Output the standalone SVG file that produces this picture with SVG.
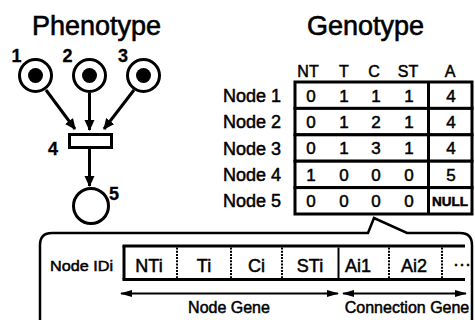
<svg xmlns="http://www.w3.org/2000/svg" width="475" height="320" viewBox="0 0 475 320" font-family="'Liberation Sans', Arial, Helvetica, sans-serif">
  <style>
    text { font-family: 'Liberation Sans', Arial, Helvetica, sans-serif; fill: #000; stroke: #000; stroke-width: 0.5px; }
    .title { font-size: 27px; stroke-width: 0.6px; }
    .num { font-size: 18px; font-weight: bold; stroke-width: 0.3px; }
    .hdr { font-size: 16px; text-anchor: middle; }
    .lbl { font-size: 18px; text-anchor: end; }
    .val { font-size: 17px; text-anchor: middle; }
    .gene { font-size: 18px; text-anchor: middle; }
    .cap { font-size: 16px; text-anchor: middle; }
    .place { fill: #fff; stroke: #000; stroke-width: 3; }
    .token { fill: #000; }
    .thick { fill: none; stroke: #000; stroke-width: 3; }
    .row { fill: #fff; stroke: #000; stroke-width: 3; }
    .dot { stroke: #000; stroke-width: 2; stroke-dasharray: 2 1.2; }
    .arc { stroke: #000; stroke-width: 3; fill: none; marker-end: url(#head); }
    .span { stroke: #000; stroke-width: 2; fill: none; marker-start: url(#small); marker-end: url(#small); }
  </style>
  <defs>
    <marker id="head" markerUnits="userSpaceOnUse" markerWidth="12" markerHeight="11" refX="10" refY="5" orient="auto">
      <path d="M0,0 L11,5 L0,10 z" fill="#000"/>
    </marker>
    <marker id="small" markerUnits="userSpaceOnUse" markerWidth="13" markerHeight="8" refX="11" refY="3.5" orient="auto-start-reverse">
      <path d="M0,0 L12,3.5 L0,7 z" fill="#000"/>
    </marker>
  </defs>

  <rect width="475" height="320" fill="#fff"/>

  <text class="title" x="32" y="35">Phenotype</text>
  <text class="title" x="307" y="35">Genotype</text>

  <!-- Petri-net view: places and the transition -->
  <g id="place1">
    <circle class="place" cx="35.5" cy="75.5" r="16"/>
    <circle class="token" cx="35.5" cy="75.5" r="7.5"/>
    <text class="num" x="16.5" y="62" text-anchor="middle">1</text>
  </g>
  <g id="place2">
    <circle class="place" cx="89.5" cy="75.5" r="16"/>
    <circle class="token" cx="89.5" cy="75.5" r="7.5"/>
    <text class="num" x="67.5" y="62" text-anchor="middle">2</text>
  </g>
  <g id="place3">
    <circle class="place" cx="143.5" cy="75.5" r="16"/>
    <circle class="token" cx="143.5" cy="75.5" r="7.5"/>
    <text class="num" x="123" y="62" text-anchor="middle">3</text>
  </g>
  <g id="transition4">
    <rect class="thick" x="69.5" y="134.5" width="42" height="13" fill="#fff"/>
    <text class="num" x="53" y="155" text-anchor="middle">4</text>
  </g>
  <g id="place5">
    <circle class="place" cx="91" cy="206" r="17.5"/>
    <text class="num" x="114" y="200" text-anchor="middle">5</text>
  </g>

  <g id="connectors">
    <line class="arc" x1="46" y1="90" x2="75" y2="129"/>
    <line class="arc" x1="89.5" y1="93" x2="89.5" y2="130"/>
    <line class="arc" x1="134" y1="90" x2="104" y2="129"/>
    <line class="arc" x1="89.5" y1="149" x2="89.5" y2="186"/>
  </g>

  <!-- Genotype table -->
  <g id="genotype">
    <text class="hdr" x="308" y="77">NT</text>
    <text class="hdr" x="344" y="77">T</text>
    <text class="hdr" x="374" y="77">C</text>
    <text class="hdr" x="408" y="77">ST</text>
    <text class="hdr" x="450" y="77">A</text>

    <rect class="row" x="295" y="82" width="177" height="26.4"/>
    <rect class="row" x="295" y="108.4" width="177" height="26.4"/>
    <rect class="row" x="295" y="134.8" width="177" height="26.4"/>
    <rect class="row" x="295" y="161.2" width="177" height="26.4"/>
    <rect class="row" x="295" y="187.6" width="177" height="26.4"/>
    <line x1="428.5" y1="82" x2="428.5" y2="214" stroke="#000" stroke-width="3"/>

    <text class="lbl" x="281" y="102">Node 1</text>
    <text class="lbl" x="281" y="128">Node 2</text>
    <text class="lbl" x="281" y="155">Node 3</text>
    <text class="lbl" x="281" y="181">Node 4</text>
    <text class="lbl" x="281" y="207">Node 5</text>

    <g class="val">
      <text x="311" y="101.5">0</text><text x="344" y="101.5">1</text><text x="376" y="101.5">1</text><text x="409" y="101.5">1</text><text x="451" y="101.5">4</text>
      <text x="311" y="127.9">0</text><text x="344" y="127.9">1</text><text x="376" y="127.9">2</text><text x="409" y="127.9">1</text><text x="451" y="127.9">4</text>
      <text x="311" y="154.3">0</text><text x="344" y="154.3">1</text><text x="376" y="154.3">3</text><text x="409" y="154.3">1</text><text x="451" y="154.3">4</text>
      <text x="311" y="180.7">1</text><text x="344" y="180.7">0</text><text x="376" y="180.7">0</text><text x="409" y="180.7">0</text><text x="451" y="180.7">5</text>
      <text x="311" y="207.1">0</text><text x="344" y="207.1">0</text><text x="376" y="207.1">0</text><text x="409" y="207.1">0</text>
    </g>
    <text x="450" y="206" font-size="13" font-weight="bold" stroke-width="0.2" text-anchor="middle" textLength="36" lengthAdjust="spacingAndGlyphs">NULL</text>
  </g>

  <!-- Chromosome layout callout -->
  <g id="callout">
    <path d="M40,330 V245 Q40,233 52,233 H368 L374,218 L407,233 H460 Q472,233 472,245 V330" fill="none" stroke="#000" stroke-width="2.5"/>
    <text x="50" y="271" font-size="15" textLength="63" lengthAdjust="spacingAndGlyphs">Node IDi</text>

    <line x1="122.5" y1="246" x2="465" y2="246" stroke="#000" stroke-width="3"/>
    <line x1="122.5" y1="279.5" x2="465" y2="279.5" stroke="#000" stroke-width="3"/>
    <line x1="124" y1="246" x2="124" y2="279.5" stroke="#000" stroke-width="3"/>
    <line class="dot" x1="177" y1="247.5" x2="177" y2="278"/>
    <line class="dot" x1="231" y1="247.5" x2="231" y2="278"/>
    <line class="dot" x1="282" y1="247.5" x2="282" y2="278"/>
    <line x1="338.5" y1="247.5" x2="338.5" y2="278" stroke="#000" stroke-width="2"/>
    <line class="dot" x1="389" y1="247.5" x2="389" y2="278"/>
    <line class="dot" x1="442" y1="247.5" x2="442" y2="278"/>

    <text class="gene" x="149" y="271.5">NTi</text>
    <text class="gene" x="204" y="271.5">Ti</text>
    <text class="gene" x="256.5" y="271.5">Ci</text>
    <text class="gene" x="310" y="271.5">STi</text>
    <text class="gene" x="358" y="271.5">Ai1</text>
    <text class="gene" x="414" y="271.5">Ai2</text>
    <text x="453" y="270" font-size="18">···</text>

    <text class="cap" x="229" y="313">Node Gene</text>
    <text class="cap" x="407" y="313">Connection Gene</text>
  </g>

  <g id="spans">
    <line class="span" x1="121" y1="293.5" x2="338" y2="293.5"/>
    <line class="span" x1="343" y1="293.5" x2="466" y2="293.5"/>
  </g>
</svg>
